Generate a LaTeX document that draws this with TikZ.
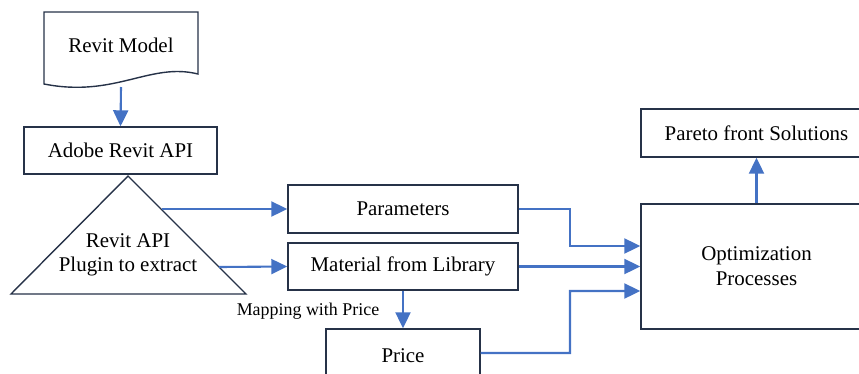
\documentclass[tikz,border=0pt]{standalone}
\usepackage{fontspec}
\setmainfont{Liberation Serif}
\usetikzlibrary{arrows.meta}
\definecolor{arrblue}{RGB}{68,114,196}
\definecolor{boxline}{RGB}{38,50,72}
\begin{document}
\begin{tikzpicture}[x=1bp,y=-1bp,
  box/.style={draw=boxline,line width=1.4bp,fill=white,inner sep=0pt,font=\fontsize{21}{25}\selectfont,align=center},
  arr/.style={draw=arrblue,line width=2.1bp,-{Triangle[length=16bp,width=15bp]}}]
\useasboundingbox (0,0) rectangle (859,373);
% Revit Model document shape
\draw[boxline,line width=1.4bp,fill=white] (44,12) -- (198,12) -- (198,74) .. controls (150,62) and (115,98) .. (44,84) -- cycle;
\node[font=\fontsize{21}{25}\selectfont] (model) at (121,45) {Revit Model};
\coordinate (mb) at (121,87);
% Adobe Revit API
\node[box,minimum width=193bp,minimum height=47bp] (adobe) at (120.5,150.5) {Adobe Revit API};
% Triangle
\draw[boxline,line width=1.4bp,fill=white] (128,176) -- (246,294) -- (11,294) -- cycle;
\node[font=\fontsize{21}{24}\selectfont,align=center] (tri) at (128,255) {Revit API\\Plugin to extract};
\coordinate (t1) at (162,209);
\coordinate (t2) at (219,267);
% boxes
\node[box,minimum width=230bp,minimum height=48bp] (param) at (403,209) {Parameters};
\node[box,minimum width=230bp,minimum height=47bp] (mat) at (403,266.5) {Material from Library};
\node[box,minimum width=154bp,minimum height=54bp] (price) at (403,356) {Price};
\node[box,minimum width=231bp,minimum height=125bp] (opt) at (756.5,266.5) {Optimization\\Processes};
\node[box,minimum width=231bp,minimum height=48bp] (pareto) at (756.5,133) {Pareto front Solutions};
\node[font=\fontsize{18}{20}\selectfont] (maplbl) at (308,311) {Mapping with Price};
% connectors
\draw[arr] (mb) -- (adobe.north);
\draw[arr] (t1) -- (param.west);
\draw[arr] (t2) -- (mat.west);
\draw[arr] (mat.south) -- (price.north);
\draw[arr] (param.east) -- (570,209) |- ([yshift=20.5bp]opt.west);
\draw[arr] (mat.east) -- (opt.west);
\draw[arr] ([yshift=3bp]price.east) -- (570,353) |- ([yshift=-24.5bp]opt.west);
\draw[arr] (opt.north) -- (pareto.south);
\end{tikzpicture}
\end{document}
